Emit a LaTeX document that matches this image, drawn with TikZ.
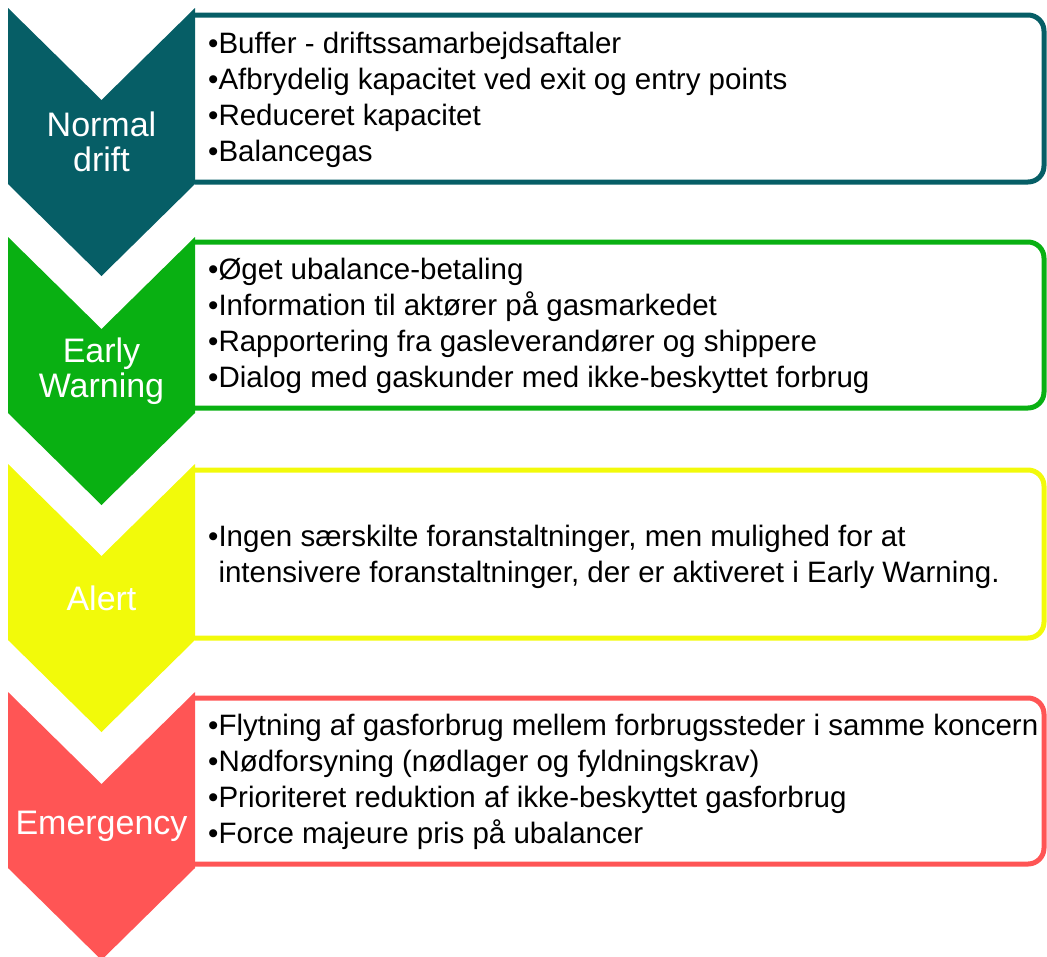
\documentclass[tikz,border=0pt]{standalone}
\usepackage{fontspec}
\setmainfont{Liberation Sans}
\definecolor{normalc}{RGB}{6,94,102}
\definecolor{earlyc}{RGB}{9,176,18}
\definecolor{alertc}{RGB}{242,250,10}
\definecolor{emergc}{RGB}{255,85,85}

\begin{document}
\begin{tikzpicture}[x=1pt,y=-1pt,
                    stage/.style={text=white,align=center,inner sep=0pt,
                                  font=\fontsize{34}{35}\selectfont},
                    items/.style={anchor=west,align=left,inner sep=0pt,
                                  font=\fontsize{29.5}{36}\selectfont},
                    frame/.style={line width=5pt,rounded corners=16pt}]

 \useasboundingbox (0,0) rectangle (1047,956);

 % boxes
 \draw[frame,draw=normalc] (195,15) -- (1044,15) -- (1044,182) -- (195,182);
 \draw[frame,draw=earlyc]  (195,242) -- (1044,242) -- (1044,408) -- (195,408);
 \draw[frame,draw=alertc]  (195,470) -- (1044,470) -- (1044,638) -- (195,638);
 \draw[frame,draw=emergc]  (195,698) -- (1044,698) -- (1044,864) -- (195,864);

 % chevrons
 \fill[normalc] (8,8) -- (101.5,100) -- (195,8) -- (195,184) -- (101.5,276) -- (8,184) -- cycle;
 \fill[earlyc]  (8,237) -- (101.5,329) -- (195,237) -- (195,413) -- (101.5,505) -- (8,413) -- cycle;
 \fill[alertc]  (8,464) -- (101.5,556) -- (195,464) -- (195,640) -- (101.5,732) -- (8,640) -- cycle;
 \fill[emergc]  (8,692) -- (101.5,784) -- (195,692) -- (195,868) -- (101.5,960) -- (8,868) -- cycle;

 \node[stage] (normal) at (101.5,142) {Normal\\drift};
 \node[stage] (early)  at (101.5,371) {Early\\Warning};
 \node[stage] (alert)  at (101.5,598) {Alert};
 \node[stage] (emerg)  at (101.5,826) {Emergency};

 \node[items] (normalitems) at (208,100)
   {•Buffer - driftssamarbejdsaftaler\\
    •Afbrydelig kapacitet ved exit og entry points\\
    •Reduceret kapacitet\\
    •Balancegas};
 \node[items] (earlyitems) at (208,326)
   {•Øget ubalance-betaling\\
    •Information til aktører på gasmarkedet\\
    •Rapportering fra gasleverandører og shippere\\
    •Dialog med gaskunder med ikke-beskyttet forbrug};
 \node[items] (alertitems) at (208,557)
   {•Ingen særskilte foranstaltninger, men mulighed for at\\
    \phantom{•}intensivere foranstaltninger, der er aktiveret i Early Warning.};
 \node[items] (emergitems) at (208,782)
   {•Flytning af gasforbrug mellem forbrugssteder i samme koncern\\
    •Nødforsyning (nødlager og fyldningskrav)\\
    •Prioriteret reduktion af ikke-beskyttet gasforbrug\\
    •Force majeure pris på ubalancer};

\end{tikzpicture}
\end{document}
